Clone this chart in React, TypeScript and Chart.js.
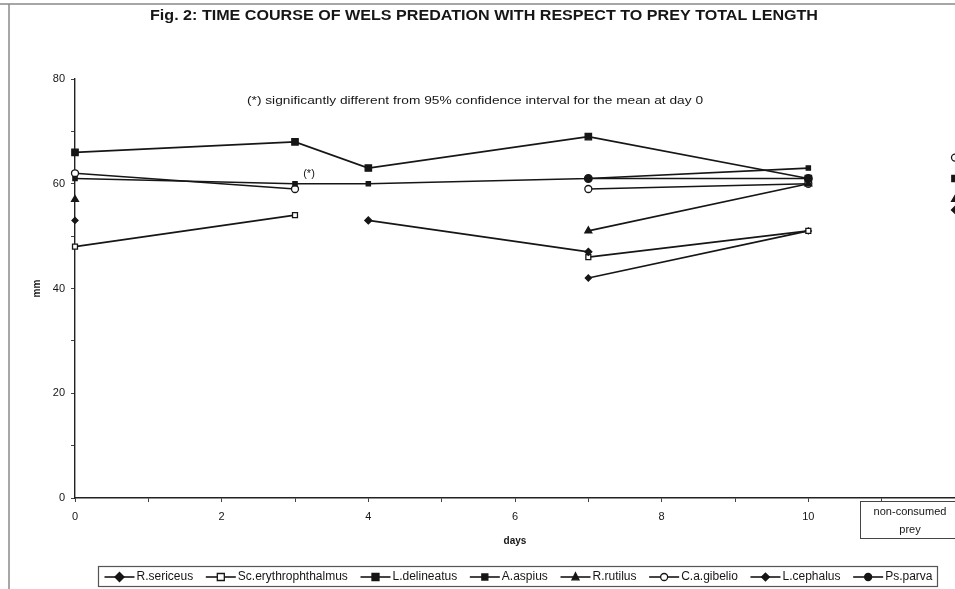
import React, { useEffect, useRef } from 'react';
import { Chart, registerables } from 'chart.js';

Chart.register(...registerables);

// ---- data ----
const days = [0, 3, 4, 7, 10, 11, 12];
const xTickValues = [0, 2, 4, 6, 8, 10];
const yTickValues = [0, 20, 40, 60, 80];
const seriesNames = ['R.sericeus', 'Sc.erythrophthalmus', 'L.delineatus', 'A.aspius', 'R.rutilus', 'C.a.gibelio', 'L.cephalus', 'Ps.parva'];
const rSericeus = [null, null, 53, 47, null, null, 55];
const scErythrophthalmus = [48, 54, null, 46, 51, null, null];
const lDelineatus = [66, 68, 63, 69, 61, null, 61];
const aAspius = [61, 60, 60, 61, 63, null, null];
const rRutilus = [57, null, null, 51, 60, null, 57];
const caGibelio = [62, 59, null, 59, 60, null, 65];
const lCephalus = [53, null, null, 42, 51, null, null];
const psParva = [null, null, null, 61, 61, null, null];
const seriesValues = [rSericeus, scErythrophthalmus, lDelineatus, aAspius, rRutilus, caGibelio, lCephalus, psParva];

const titleText = 'Fig. 2: TIME COURSE OF WELS PREDATION WITH RESPECT TO PREY TOTAL LENGTH';
const noteText = '(*) significantly different from 95% confidence interval for the mean at day 0';
const starText = '(*)';
const yTitle = 'mm';
const xTitle = 'days';
const boxLines = ['non-consumed', 'prey'];

// ---- styles ----
const INK = '#161616';
const markerStyles = [
  { style: 'rectRot', r: 3.5, fill: INK },
  { style: 'rect', r: 3.5, fill: '#ffffff' },
  { style: 'rect', r: 4.5, fill: INK },
  { style: 'rect', r: 3, fill: INK },
  { style: 'triangle', r: 4, fill: INK },
  { style: 'circle', r: 3.5, fill: '#ffffff' },
  { style: 'rectRot', r: 3, fill: INK },
  { style: 'circle', r: 3.8, fill: INK },
];

const FONT = '"Liberation Sans", Arial, sans-serif';

function drawMarker(ctx: CanvasRenderingContext2D, style: string, x: number, y: number, r: number, fill: string) {
  ctx.save();
  ctx.beginPath();
  if (style === 'circle') {
    ctx.arc(x, y, r, 0, Math.PI * 2);
  } else if (style === 'rect') {
    ctx.rect(x - r, y - r, 2 * r, 2 * r);
  } else if (style === 'rectRot') {
    ctx.moveTo(x, y - r * 1.3);
    ctx.lineTo(x + r * 1.3, y);
    ctx.lineTo(x, y + r * 1.3);
    ctx.lineTo(x - r * 1.3, y);
    ctx.closePath();
  } else if (style === 'triangle') {
    ctx.moveTo(x, y - r * 1.2);
    ctx.lineTo(x + r, y + r * 0.8);
    ctx.lineTo(x - r, y + r * 0.8);
    ctx.closePath();
  }
  ctx.fillStyle = fill;
  ctx.fill();
  ctx.lineWidth = 1.3;
  ctx.strokeStyle = INK;
  ctx.stroke();
  ctx.restore();
}

function fitText(ctx: CanvasRenderingContext2D, text: string, cx: number, cy: number, width: number) {
  const w = ctx.measureText(text).width;
  const s = width / w;
  ctx.save();
  ctx.translate(cx, cy);
  ctx.scale(s, 1);
  ctx.textAlign = 'center';
  ctx.textBaseline = 'middle';
  ctx.fillText(text, 0, 0);
  ctx.restore();
}

const decorPlugin = {
  id: 'decor',
  afterDraw(chart: any) {
    const ctx: CanvasRenderingContext2D = chart.ctx;
    const area = chart.chartArea;
    ctx.save();
    // frame
    ctx.strokeStyle = '#8a8a8a';
    ctx.lineWidth = 1.5;
    ctx.beginPath();
    ctx.moveTo(0, 4);
    ctx.lineTo(955, 4);
    ctx.moveTo(9, 4);
    ctx.lineTo(9, 589);
    ctx.stroke();

    ctx.fillStyle = INK;
    // title
    ctx.font = `bold 14px ${FONT}`;
    fitText(ctx, titleText, 484, 16, 668);
    // note
    ctx.font = `11px ${FONT}`;
    fitText(ctx, noteText, 475, 101, 456);
    // star near day 3
    const xs = chart.scales.x;
    const ys = chart.scales.y;
    ctx.font = `11px ${FONT}`;
    ctx.textAlign = 'center';
    ctx.textBaseline = 'middle';
    ctx.fillText(starText, xs.getPixelForValue(3) + 14, ys.getPixelForValue(61.9));

    // axis titles
    ctx.font = `bold 10px ${FONT}`;
    ctx.fillText(xTitle, (area.left + area.right) / 2, 541);
    ctx.save();
    ctx.translate(37, (area.top + area.bottom) / 2);
    ctx.rotate(-Math.PI / 2);
    ctx.fillText(yTitle, 0, 0);
    ctx.restore();

    // non-consumed box
    ctx.strokeStyle = '#444';
    ctx.lineWidth = 1;
    ctx.strokeRect(860.5, 501.5, 100, 37);
    ctx.font = `11px ${FONT}`;
    ctx.fillText(boxLines[0], 910, 512);
    ctx.fillText(boxLines[1], 910, 530);

    // legend
    const lx = 98, ly = 566, lw = 839, lh = 20;
    ctx.strokeStyle = '#555';
    ctx.lineWidth = 1.2;
    ctx.strokeRect(lx + 0.5, ly + 0.5, lw, lh);
    ctx.font = `12px ${FONT}`;
    const sample = 30, tgap = 2;
    const widths = seriesNames.map((n) => ctx.measureText(n).width);
    const base = widths.reduce((a, b) => a + b + sample + tgap, 0);
    const contentW = 828;
    const gap = (contentW - base) / (seriesNames.length - 1);
    let cx = lx + (lw - contentW) / 2 + 1;
    const cy = ly + lh / 2 + 1;
    ctx.textAlign = 'left';
    seriesNames.forEach((n, i) => {
      ctx.strokeStyle = INK;
      ctx.lineWidth = 1.6;
      ctx.beginPath();
      ctx.moveTo(cx, cy);
      ctx.lineTo(cx + sample, cy);
      ctx.stroke();
      const m = markerStyles[i];
      drawMarker(ctx, m.style, cx + sample / 2, cy, Math.min(m.r, 3.5), m.fill);
      ctx.fillStyle = INK;
      ctx.fillText(n, cx + sample + tgap, cy);
      cx += sample + tgap + widths[i] + gap;
    });
    ctx.restore();
  },
};

export default function App() {
  const ref = useRef<HTMLCanvasElement | null>(null);
  useEffect(() => {
    if (!ref.current) return;
    const datasets = seriesNames.map((name, i) => ({
      label: name,
      data: days.map((d, j) => ({ x: d, y: seriesValues[i][j] })),
      borderColor: INK,
      borderWidth: 1.7,
      backgroundColor: markerStyles[i].fill,
      pointStyle: markerStyles[i].style,
      pointRadius: markerStyles[i].r,
      pointBorderColor: INK,
      pointBorderWidth: 1.3,
      pointBackgroundColor: markerStyles[i].fill,
      spanGaps: false,
      tension: 0,
      clip: false as any,
    }));
    const chart = new Chart(ref.current, {
      type: 'line',
      data: { datasets },
      options: {
        animation: false,
        responsive: false,
        devicePixelRatio: 1,
        layout: { autoPadding: false, padding: { top: 79, left: 0, right: 0, bottom: 51 } },
        plugins: { legend: { display: false }, title: { display: false }, tooltip: { enabled: false } },
        scales: {
          x: {
            type: 'linear',
            min: 0,
            max: 12,
            afterFit: (s: any) => { s.height = 40; s.paddingRight = 0; },
            ticks: {
              stepSize: 1,
              autoSkip: false,
              maxRotation: 0,
              padding: 8,
              color: INK,
              font: { family: FONT, size: 11 },
              callback: (v: any) => (xTickValues.includes(Number(v)) ? String(v) : ''),
            },
            grid: { drawOnChartArea: false, drawTicks: true, tickLength: 4, color: '#444' },
            border: { display: true, color: '#222', width: 1.4 },
          },
          y: {
            min: 0,
            max: 80,
            afterFit: (s: any) => { s.width = 75; },
            ticks: {
              stepSize: 10,
              autoSkip: false,
              padding: 6,
              color: INK,
              font: { family: FONT, size: 11 },
              callback: (v: any) => (yTickValues.includes(Number(v)) ? String(v) : ''),
            },
            grid: { drawOnChartArea: false, drawTicks: true, tickLength: 4, color: '#444' },
            border: { display: true, color: '#222', width: 1.4 },
          },
        },
      },
      plugins: [decorPlugin],
    });
    return () => chart.destroy();
  }, []);
  return (
    <div style={{ position: 'absolute', left: 0, top: 0, width: 955, height: 589, background: '#fff', overflow: 'hidden' }}>
      <canvas ref={ref} width={955} height={589} style={{ display: 'block' }} />
    </div>
  );
}
